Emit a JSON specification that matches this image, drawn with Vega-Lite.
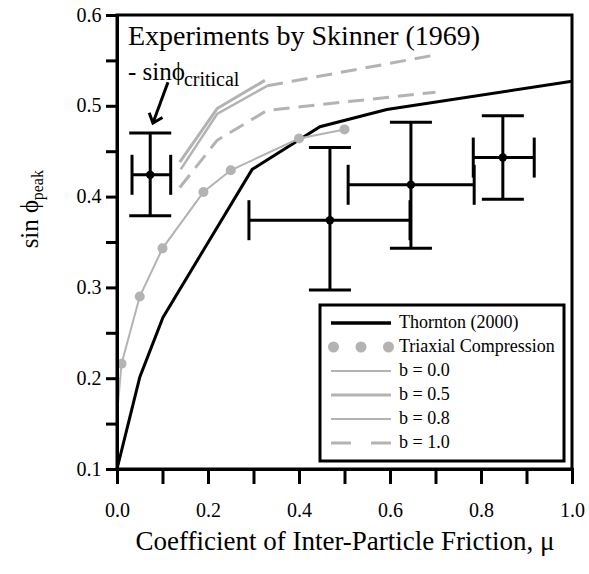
{
  "$schema": "https://vega.github.io/schema/vega-lite/v6.json",
  "width": 455,
  "height": 454,
  "autosize": {"type": "none"},
  "padding": {"left": 117, "top": 15, "right": 17, "bottom": 105},
  "background": "white",
  "config": {
    "view": {"stroke": "black", "strokeWidth": 3},
    "font": "Liberation Serif",
    "axis": {
      "ticks": true, "tickWidth": 3, "tickColor": "#000000", "tickOpacity": 1, "tickRound": false, "tickCap": "square",
      "domainWidth": 3, "domainColor": "black", "grid": false,
      "labelFont": "Liberation Serif", "labelFontSize": 20, "labelColor": "black",
      "labelFlush": false, "labelOverlap": false,
      "titleFont": "Liberation Serif", "titleFontWeight": "normal", "titleColor": "black"
    },
    "axisX": {"tickSize": 13, "labelPadding": 18, "titleFontSize": 27, "titlePadding": 8},
    "axisY": {"tickSize": 10, "labelPadding": 6}
  },
  "datasets": {
    "lines": [
      {"series": "Thornton (2000)", "mu": 0.0, "s": 0.1},
      {"series": "Thornton (2000)", "mu": 0.05, "s": 0.201},
      {"series": "Thornton (2000)", "mu": 0.101, "s": 0.267},
      {"series": "Thornton (2000)", "mu": 0.297, "s": 0.43},
      {"series": "Thornton (2000)", "mu": 0.446, "s": 0.477},
      {"series": "Thornton (2000)", "mu": 0.593, "s": 0.496},
      {"series": "Thornton (2000)", "mu": 1.0, "s": 0.527},
      {"series": "b = 0.0", "mu": 0.0, "s": 0.16},
      {"series": "b = 0.0", "mu": 0.01, "s": 0.216},
      {"series": "b = 0.0", "mu": 0.05, "s": 0.29},
      {"series": "b = 0.0", "mu": 0.1, "s": 0.343},
      {"series": "b = 0.0", "mu": 0.19, "s": 0.405},
      {"series": "b = 0.0", "mu": 0.25, "s": 0.429},
      {"series": "b = 0.0", "mu": 0.4, "s": 0.464},
      {"series": "b = 0.0", "mu": 0.5, "s": 0.474},
      {"series": "b = 0.5", "mu": 0.138, "s": 0.438},
      {"series": "b = 0.5", "mu": 0.22, "s": 0.497},
      {"series": "b = 0.5", "mu": 0.325, "s": 0.528},
      {"series": "b = 0.8", "mu": 0.14, "s": 0.43},
      {"series": "b = 0.8", "mu": 0.22, "s": 0.491},
      {"series": "b = 0.8", "mu": 0.33, "s": 0.522},
      {"series": "b = 1.0", "mu": 0.138, "s": 0.41},
      {"series": "b = 1.0", "mu": 0.22, "s": 0.462},
      {"series": "b = 1.0", "mu": 0.33, "s": 0.495},
      {"series": "b = 1.0", "mu": 0.7, "s": 0.515}
    ],
    "ext": [
      {"series": "b = 0.8", "mu": 0.33, "s": 0.522},
      {"series": "b = 0.8", "mu": 0.7, "s": 0.556}
    ],
    "dots": [
      {"series": "Triaxial Compression", "mu": 0.01, "s": 0.216},
      {"series": "Triaxial Compression", "mu": 0.05, "s": 0.29},
      {"series": "Triaxial Compression", "mu": 0.1, "s": 0.343},
      {"series": "Triaxial Compression", "mu": 0.19, "s": 0.405},
      {"series": "Triaxial Compression", "mu": 0.25, "s": 0.429},
      {"series": "Triaxial Compression", "mu": 0.4, "s": 0.464},
      {"series": "Triaxial Compression", "mu": 0.5, "s": 0.474}
    ],
    "err": [
      {"mu": 0.073, "s": 0.424, "mulo": 0.033, "muhi": 0.118, "slo": 0.379, "shi": 0.47},
      {"mu": 0.468, "s": 0.374, "mulo": 0.29, "muhi": 0.644, "slo": 0.297, "shi": 0.454},
      {"mu": 0.646, "s": 0.413, "mulo": 0.508, "muhi": 0.785, "slo": 0.343, "shi": 0.482},
      {"mu": 0.848, "s": 0.443, "mulo": 0.783, "muhi": 0.917, "slo": 0.397, "shi": 0.489}
    ],
    "arrow": [
      {"mu": 0.112, "s": 0.526, "mu2": 0.079, "s2": 0.481}
    ],
    "notes": [
      {"label": "Experiments by Skinner (1969)", "mu": 0.024, "s": 0.567},
      {"label": "- sinϕ", "mu": 0.024, "s": 0.528},
      {"label": "critical", "mu": 0.147, "s": 0.522},
      {"label": "sin ϕ", "mu": -0.174, "s": 0.343},
      {"label": "peak", "mu": -0.163, "s": 0.396}
    ]
  },
  "encoding": {
    "x": {
      "field": "mu", "type": "quantitative",
      "scale": {"domain": [0, 1], "nice": false, "zero": false},
      "axis": {
        "values": [0, 0.1, 0.2, 0.3, 0.4, 0.5, 0.6, 0.7, 0.8, 0.9, 1.0],
        "labelExpr": "round(datum.value*10) % 2 == 0 ? format(datum.value, '.1f') : ''",
        "ticks": true, "tickColor": "#000000", "tickWidth": 3, "tickSize": 13, "zindex": 1,
        "title": "Coefficient of Inter-Particle Friction, μ"
      }
    },
    "y": {
      "field": "s", "type": "quantitative",
      "scale": {"domain": [0.1, 0.6], "nice": false, "zero": false},
      "axis": {
        "values": [0.1, 0.15, 0.2, 0.25, 0.3, 0.35, 0.4, 0.45, 0.5, 0.55, 0.6],
        "labelExpr": "abs(datum.value*10 - round(datum.value*10)) < 0.001 ? format(datum.value, '.1f') : ''",
        "ticks": true, "tickColor": "#000000", "tickWidth": 3, "tickSize": 10, "zindex": 1,
        "title": null
      }
    }
  },
  "layer": [
    {
      "data": {"name": "lines"},
      "transform": [{"filter": "datum.series === 'Thornton (2000)'"}],
      "mark": {"type": "line", "strokeWidth": 3, "strokeCap": "butt"},
      "encoding": {
        "color": {
          "field": "series", "type": "nominal",
          "scale": {
            "domain": ["Thornton (2000)", "Triaxial Compression", "b = 0.0", "b = 0.5", "b = 0.8", "b = 1.0"],
            "range": ["#000000", "#b3b3b3", "#b3b3b3", "#b3b3b3", "#b3b3b3", "#b3b3b3"]
          },
          "legend": {
            "title": null, "orient": "none", "legendX": 203, "legendY": 290,
            "padding": 9, "rowPadding": 6,
            "labelFont": "Liberation Serif", "labelFontSize": 18, "labelColor": "black",
            "labelLimit": 400, "labelOffset": 52, "symbolSize": 100, "cornerRadius": 0,
            "strokeColor": "black",
            "encode": {
              "legend": {"update": {"stroke": {"value": "black"}, "strokeWidth": {"value": 3}}},
              "symbols": {"update": {
                "shape": {"signal": "datum.value === 'Triaxial Compression' ? 'M-6.4,0a0.9,0.9 0 1,0 1.8,0a0.9,0.9 0 1,0 -1.8,0M-0.9,0a0.9,0.9 0 1,0 1.8,0a0.9,0.9 0 1,0 -1.8,0M4.6,0a0.9,0.9 0 1,0 1.8,0a0.9,0.9 0 1,0 -1.8,0' : datum.value === 'b = 1.0' ? 'M-6,0L-2,0M2,0L6,0' : 'M-6,0L6,0'"},
                "x": {"value": 32},
                "fill": {"signal": "datum.value === 'Triaxial Compression' ? '#b3b3b3' : 'transparent'"},
                "stroke": {"signal": "datum.value === 'Thornton (2000)' ? '#000000' : datum.value === 'Triaxial Compression' ? 'transparent' : '#b3b3b3'"},
                "strokeWidth": {"signal": "datum.value === 'Thornton (2000)' ? 3.5 : datum.value === 'b = 0.5' ? 3 : datum.value === 'b = 1.0' ? 3 : 2"},
                "strokeDash": {"value": []},
                "opacity": {"value": 1}
              }}
            }
          }
        }
      }
    },
    {
      "data": {"name": "lines"},
      "transform": [{"filter": "datum.series === 'b = 0.0'"}],
      "mark": {"type": "line", "strokeWidth": 2, "strokeCap": "butt"},
      "encoding": {"color": {"field": "series", "type": "nominal"}}
    },
    {
      "data": {"name": "lines"},
      "transform": [{"filter": "datum.series === 'b = 0.5'"}],
      "mark": {"type": "line", "strokeWidth": 3, "strokeCap": "butt"},
      "encoding": {"color": {"field": "series", "type": "nominal"}}
    },
    {
      "data": {"name": "lines"},
      "transform": [{"filter": "datum.series === 'b = 0.8'"}],
      "mark": {"type": "line", "strokeWidth": 2.5, "strokeCap": "butt"},
      "encoding": {"color": {"field": "series", "type": "nominal"}}
    },
    {
      "data": {"name": "lines"},
      "transform": [{"filter": "datum.series === 'b = 1.0'"}],
      "mark": {"type": "line", "strokeWidth": 3, "strokeDash": [16, 9], "strokeCap": "butt"},
      "encoding": {"color": {"field": "series", "type": "nominal"}}
    },
    {
      "data": {"name": "ext"},
      "mark": {"type": "line", "color": "#b3b3b3", "strokeWidth": 3, "strokeDash": [16, 9], "strokeCap": "butt"},
      "encoding": {}
    },
    {
      "data": {"name": "dots"},
      "mark": {"type": "point", "filled": true, "size": 100, "opacity": 1},
      "encoding": {
        "color": {"field": "series", "type": "nominal"}
      }
    },
    {
      "data": {"name": "err"},
      "mark": {"type": "rule", "color": "black", "strokeWidth": 3},
      "encoding": {
        "y": {"field": "slo", "type": "quantitative"},
        "y2": {"field": "shi"}
      }
    },
    {
      "data": {"name": "err"},
      "mark": {"type": "rule", "color": "black", "strokeWidth": 3},
      "encoding": {
        "x": {"field": "mulo", "type": "quantitative"},
        "x2": {"field": "muhi"}
      }
    },
    {
      "data": {"name": "err"},
      "mark": {"type": "tick", "orient": "horizontal", "size": 42, "thickness": 3, "color": "black", "opacity": 1},
      "encoding": {"y": {"field": "slo", "type": "quantitative"}}
    },
    {
      "data": {"name": "err"},
      "mark": {"type": "tick", "orient": "horizontal", "size": 42, "thickness": 3, "color": "black", "opacity": 1},
      "encoding": {"y": {"field": "shi", "type": "quantitative"}}
    },
    {
      "data": {"name": "err"},
      "mark": {"type": "tick", "orient": "vertical", "size": 40, "thickness": 3, "color": "black", "opacity": 1},
      "encoding": {"x": {"field": "mulo", "type": "quantitative"}}
    },
    {
      "data": {"name": "err"},
      "mark": {"type": "tick", "orient": "vertical", "size": 40, "thickness": 3, "color": "black", "opacity": 1},
      "encoding": {"x": {"field": "muhi", "type": "quantitative"}}
    },
    {
      "data": {"name": "err"},
      "mark": {"type": "point", "filled": true, "size": 70, "color": "black", "opacity": 1},
      "encoding": {}
    },
    {
      "data": {"name": "arrow"},
      "mark": {"type": "rule", "color": "black", "strokeWidth": 3},
      "encoding": {
        "x2": {"field": "mu2"},
        "y2": {"field": "s2"}
      }
    },
    {
      "data": {"name": "arrow"},
      "mark": {"type": "point", "shape": "M-1,-1.2L0,0L1,-1.2", "size": 200, "filled": false, "stroke": "black", "strokeWidth": 3, "opacity": 1, "angle": 20, "strokeJoin": "miter"},
      "encoding": {
        "x": {"field": "mu2", "type": "quantitative"},
        "y": {"field": "s2", "type": "quantitative"}
      }
    },
    {
      "data": {"name": "notes"},
      "transform": [{"filter": "datum.label === 'Experiments by Skinner (1969)'"}],
      "mark": {"type": "text", "font": "Liberation Serif", "fontSize": 28, "align": "left", "baseline": "alphabetic", "color": "black"},
      "encoding": {"text": {"field": "label"}}
    },
    {
      "data": {"name": "notes"},
      "transform": [{"filter": "datum.label === '- sinϕ'"}],
      "mark": {"type": "text", "font": "Liberation Serif", "fontSize": 25, "align": "left", "baseline": "alphabetic", "color": "black"},
      "encoding": {"text": {"field": "label"}}
    },
    {
      "data": {"name": "notes"},
      "transform": [{"filter": "datum.label === 'critical'"}],
      "mark": {"type": "text", "font": "Liberation Serif", "fontSize": 20, "align": "left", "baseline": "alphabetic", "color": "black"},
      "encoding": {"text": {"field": "label"}}
    },
    {
      "data": {"name": "notes"},
      "transform": [{"filter": "datum.label === 'sin ϕ'"}],
      "mark": {"type": "text", "font": "Liberation Serif", "fontSize": 25, "align": "left", "baseline": "alphabetic", "angle": 270, "color": "black"},
      "encoding": {"text": {"field": "label"}}
    },
    {
      "data": {"name": "notes"},
      "transform": [{"filter": "datum.label === 'peak'"}],
      "mark": {"type": "text", "font": "Liberation Serif", "fontSize": 16, "align": "left", "baseline": "alphabetic", "angle": 270, "color": "black"},
      "encoding": {"text": {"field": "label"}}
    }
  ]
}
